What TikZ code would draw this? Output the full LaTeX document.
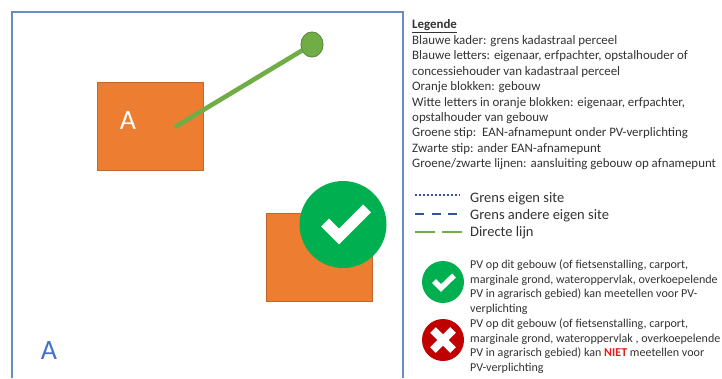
\documentclass[tikz,border=0pt]{standalone}
\usepackage{fontspec}
\setmainfont{Carlito}
\usetikzlibrary{shapes.geometric}
\definecolor{frameblue}{HTML}{6A8CC4}
\definecolor{letterblue}{HTML}{4472C4}
\definecolor{darkblue}{HTML}{2F5597}
\definecolor{orangefill}{HTML}{ED7D31}
\definecolor{orangeline}{HTML}{C0672C}
\definecolor{linegreen}{HTML}{70AD47}
\definecolor{dotline}{HTML}{5A8A3A}
\definecolor{okgreen}{HTML}{00B050}
\definecolor{nored}{HTML}{C00000}
\definecolor{niet}{HTML}{E02020}
\definecolor{txt}{HTML}{333333}
\tikzset{
  x=1pt,y=-1pt,
  building/.style={rectangle,draw=orangeline,fill=orangefill,line width=0.9pt,minimum width=106pt,minimum height=88pt,inner sep=0pt},
  legendtext/.style={anchor=north west,align=left,text=txt,inner sep=0pt,font=\fontsize{12.9}{15.45}\selectfont},
  sampletext/.style={anchor=west,text=txt,inner sep=0pt,font=\fontsize{14.5}{16}\selectfont},
  pvtext/.style={anchor=north west,align=left,text=txt,inner sep=0pt,font=\fontsize{12.05}{14.5}\selectfont},
  badge/.style={circle,inner sep=0pt,minimum size=#1},
  mark stroke/.style={draw=white,line cap=butt,line join=miter},
  eandot/.style={ellipse,draw=dotline,fill=linegreen,line width=0.7pt,minimum width=22pt,minimum height=25pt,inner sep=0pt},
}
\begin{document}
\begin{tikzpicture}
\useasboundingbox (0,0) rectangle (722,378);
\fill[white] (0,0) rectangle (722,378);
% site frame
\draw[frameblue,line width=1.1pt] (12,378) -- (12,12) -- (403,12) -- (403,378);
% buildings
\node[building] (b1) at (150.5,126.5) {};
\node[building] (b2) at (319,257.5) {};
\node[text=white,inner sep=0pt,font=\fontsize{28}{28}\selectfont] (lblA) at (128,120.5) {A};
\node[text=letterblue,inner sep=0pt,font=\fontsize{28}{28}\selectfont] (ownerA) at (49,350.5) {A};
% connection
\coordinate (lineStart) at (175,127);
\node[eandot] (ean) at (312,44.5) {};
\draw[linegreen,line width=4.6pt] (lineStart) -- (ean);
\node[eandot] at (312,44.5) {};
% big check
\node[badge=87pt,fill=okgreen] (okBig) at (343,224.5) {};
\draw[mark stroke,line width=11pt] (325,222.5) -- (339,236.5) -- (367,208.5);
% legend
\node[legendtext] (legend) at (412,19.5) {\textbf{\underline{Legende}}\\
Blauwe kader: grens kadastraal perceel\\
Blauwe letters: eigenaar, erfpachter, opstalhouder of\\
concessiehouder van kadastraal perceel\\
Oranje blokken: gebouw\\
Witte letters in oranje blokken: eigenaar, erfpachter,\\
opstalhouder van gebouw\\
Groene stip:\ \ EAN-afnamepunt onder PV-verplichting\\
Zwarte stip: ander EAN-afnamepunt\\
Groene/zwarte lijnen: aansluiting gebouw op afnamepunt};
% line samples
\node[sampletext] (s1) at (470,199) {Grens eigen site};
\node[sampletext] (s2) at (470,216) {Grens andere eigen site};
\node[sampletext] (s3) at (470,233) {Directe lijn};
\coordinate (s1a) at (415,195);
\coordinate (s1b) at (460,195);
\coordinate (s2a) at (415,214);
\coordinate (s2b) at (460,214);
\coordinate (s3a) at (415,232);
\coordinate (s3b) at (462,232);
\draw[darkblue,line width=1.4pt,dash pattern=on 2pt off 2pt] (s1a) -- (s1b);
\draw[darkblue,line width=2.2pt,dash pattern=on 9pt off 7.5pt] (s2a) -- (s2b);
\draw[linegreen,line width=1.8pt,dash pattern=on 20pt off 7pt] (s3a) -- (s3b);
% icons
\node[badge=42pt,fill=okgreen] (okIcon) at (443,282) {};
\draw[mark stroke,line width=5.5pt] (434,281) -- (441,288) -- (454,275.5);
\node[badge=42pt,fill=nored] (noIcon) at (443,340) {};
\draw[mark stroke,line width=8pt] (433,330) -- (453,350);
\draw[mark stroke,line width=8pt] (433,350) -- (453,330);
% icon texts
\node[pvtext] (okText) at (470,259.5) {PV op dit gebouw (of fietsenstalling, carport,\\
marginale grond, wateroppervlak, overkoepelende\\
PV in agrarisch gebied) kan meetellen voor PV-\\
verplichting};
\node[pvtext] (noText) at (470,318.5) {PV op dit gebouw (of fietsenstalling, carport,\\
marginale grond, wateroppervlak , overkoepelende\\
PV in agrarisch gebied) kan \textbf{\textcolor{niet}{NIET}} meetellen voor\\
PV-verplichting};
\end{tikzpicture}
\end{document}
